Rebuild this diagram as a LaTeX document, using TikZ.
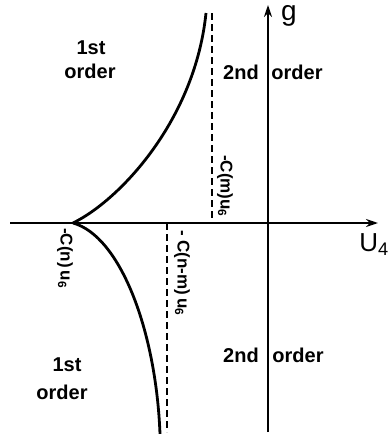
\documentclass[tikz,border=0pt]{standalone}
\usepackage{fontspec}
\setmainfont{Liberation Sans}
\usetikzlibrary{arrows.meta}
\begin{document}
\begin{tikzpicture}[x=1pt,y=-1pt,
  lbl/.style={font=\fontsize{20}{22}\selectfont\bfseries, inner sep=0pt},
  rlbl/.style={font=\fontsize{17}{19}\selectfont\bfseries, inner sep=0pt, rotate=-90, anchor=west},
  axis/.style={line width=1.8pt, -{Stealth[length=12pt,width=8pt]}},
  curve/.style={line width=2.8pt},
  dsh/.style={line width=1.1pt, dash pattern=on 7pt off 4pt}]
\useasboundingbox (0,0) rectangle (390,434);
% axes
\coordinate (xl) at (10,223);
\coordinate (xr) at (378,223);
\coordinate (yb) at (268,432);
\coordinate (yt) at (268,5);
\draw[axis] (xl) -- (xr);
\draw[axis] (yb) -- (yt);
\node[lbl, font=\fontsize{28}{30}\selectfont] (g) at (289,16) {g};
\node[lbl, font=\fontsize{26}{28}\selectfont\mdseries] (u4) at (374,245) {U\textsubscript{4}};
% cusp and curves
\coordinate (cusp) at (73,223);
\coordinate (ctop) at (206,13);
\coordinate (cbot) at (160,434);
\draw[curve] (cusp) .. controls (120,200) and (195,120) .. (ctop);
\draw[curve] (cusp) .. controls (120,236) and (156,330) .. (cbot);
% dashed lines
\coordinate (dma) at (212,13);
\coordinate (dmb) at (212,223);
\coordinate (dna) at (167,223);
\coordinate (dnb) at (167,432);
\draw[dsh] (dma) -- (dmb);
\draw[dsh] (dna) -- (dnb);
% rotated labels
\node[rlbl] (lm) at (225,155) {-C(m)u\textsubscript{6}};
\node[rlbl] (lnm) at (182,230) {-\;C(n-m)\,u\textsubscript{6}};
\node[rlbl] (ln) at (65,228) {-C(n)\,u\textsubscript{6}};
% region labels
\node[lbl] (f1a) at (91,48) {1st};
\node[lbl] (f1b) at (90,71) {order};
\node[lbl] (f2a) at (67,365) {1st};
\node[lbl] (f2b) at (62,392) {order};
\node[lbl] (s1a) at (241,72) {2nd};
\node[lbl] (s1b) at (297,72) {order};
\node[lbl] (s2a) at (241,355) {2nd};
\node[lbl] (s2b) at (298,355) {order};
\end{tikzpicture}
\end{document}
